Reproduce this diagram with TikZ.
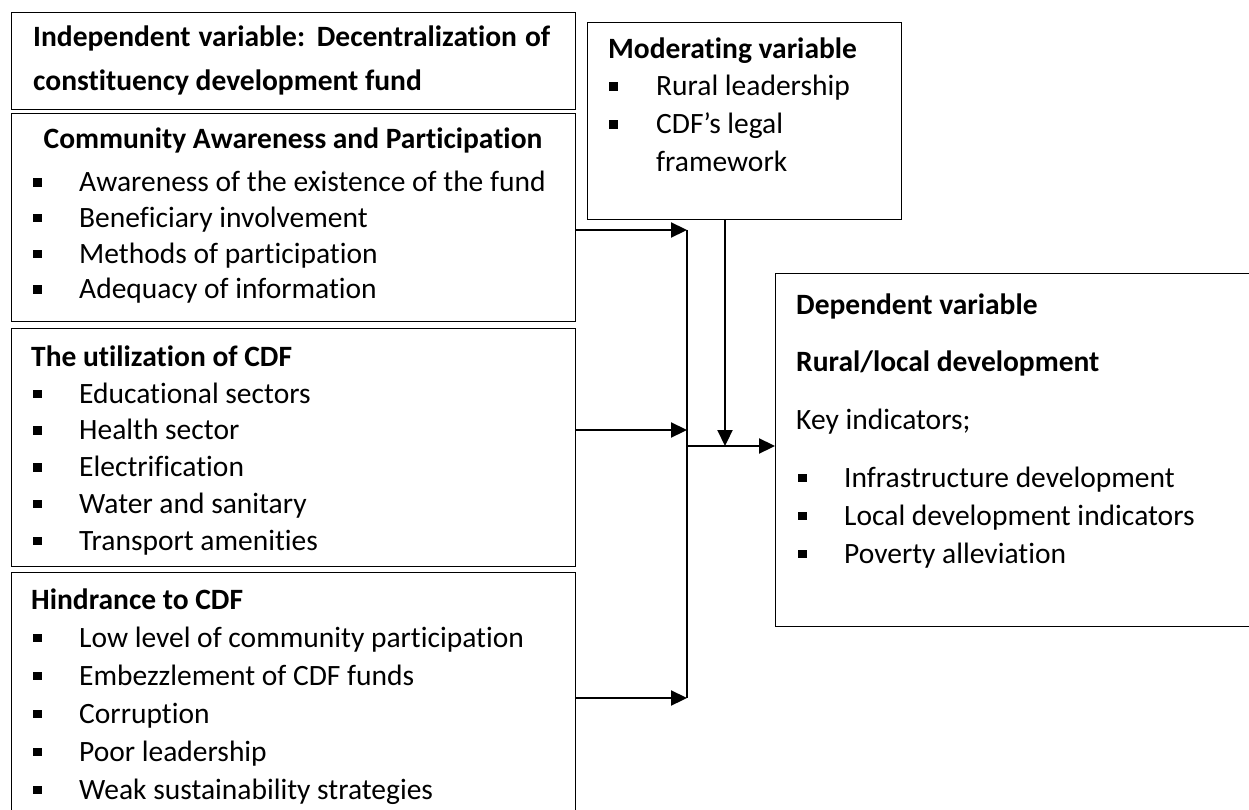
\documentclass[tikz,border=0pt]{standalone}
\usepackage{fontspec}
\setmainfont{Carlito}[Ligatures=NoCommon]
\usetikzlibrary{arrows.meta}
\tikzstyle{box}=[draw, line width=1.3pt, inner sep=0pt, anchor=north west]
\tikzstyle{txt}=[inner sep=0pt, anchor=base west, font=\fontsize{29.5pt}{36pt}\selectfont]
\tikzstyle{head}=[txt, font=\fontsize{29.5pt}{36pt}\selectfont\bfseries]
\tikzstyle{flow}=[line width=2.2pt, -{Triangle[length=16pt,width=15pt]}]
\newcommand{\sqbul}{\makebox[46pt][l]{\rule[5pt]{8.5pt}{8.5pt}}}

\begin{document}
\begin{tikzpicture}[x=1pt, y=-1pt]
\useasboundingbox (0,0) rectangle (1249,810);
\clip (0,0) rectangle (1249,810);
% boxes
\draw (11,12) node[box, minimum width=564pt, minimum height=97pt] (indep) {};
\draw (11,113) node[box, minimum width=564pt, minimum height=208pt] (aware) {};
\draw (11,328) node[box, minimum width=564pt, minimum height=238pt] (util) {};
\draw (11,572) node[box, minimum width=564pt, minimum height=250pt] (hind) {};
\draw (587,22) node[box, minimum width=314pt, minimum height=197pt] (moder) {};
\draw (775,273) node[box, minimum width=490pt, minimum height=353pt] (dep) {};

% independent variable
\draw (33,47) node[head] (indep1) {\makebox[517pt][s]{Independent variable: Decentralization of}};
\draw (33,91) node[head] (indep2) {constituency development fund};

% awareness
\draw (293,149) node[head, anchor=base] (awareh) {Community Awareness and Participation};
\foreach \t [count=\i] in {Awareness of the existence of the fund, Beneficiary involvement,
  Methods of participation, Adequacy of information}
  \draw (33,{192+35.5*(\i-1)}) node[txt] (aware\i) {\sqbul\t};

% utilization
\draw (31,366) node[head] (utilh) {The utilization of CDF};
\foreach \t [count=\i] in {Educational sectors, Health sector, Electrification,
  Water and sanitary, Transport amenities}
  \draw (33,{403+36.8*(\i-1)}) node[txt] (util\i) {\sqbul\t};

% hindrance
\draw (31,609) node[head] (hindh) {Hindrance to CDF};
\foreach \t [count=\i] in {Low level of community participation, Embezzlement of CDF funds,
  Corruption, Poor leadership, Weak sustainability strategies}
  \draw (33,{647+38*(\i-1)}) node[txt] (hind\i) {\sqbul\t};

% moderating variable
\draw (608,59) node[head] (moderh) {Moderating variable};
\draw (609,96) node[txt] (moder1) {\makebox[47pt][l]{\rule[5pt]{8.5pt}{8.5pt}}Rural leadership};
\draw (609,134) node[txt] (moder2) {\makebox[47pt][l]{\rule[5pt]{8.5pt}{8.5pt}}CDF’s legal};
\draw (656,172) node[txt] (moder3) {framework};

% dependent variable
\draw (796,314) node[head] (deph1) {Dependent variable};
\draw (796,371) node[head] (deph2) {Rural/local development};
\draw (796,429) node[txt] (depk) {Key indicators;};
\foreach \t [count=\i] in {Infrastructure development, Local development indicators,
  Poverty alleviation}
  \draw (798,{487+38*(\i-1)}) node[txt] (dep\i) {\sqbul\t};

% connectors
\coordinate (j1) at (687,230);
\coordinate (j2) at (687,430);
\coordinate (j3) at (687,698);
\coordinate (jout) at (687,446);
\coordinate (jmod) at (725,446);
\draw[flow] (aware.east |- j1) -- (j1);
\draw[flow] (util.east |- j2) -- (j2);
\draw[flow] (hind.east |- j3) -- (j3);
\draw[line width=1.3pt] (j1) -- (j3);
\draw[flow] (jout) -- (dep.west |- jout);
\draw[flow] (moder.south -| jmod) -- (jmod);
\end{tikzpicture}
\end{document}
